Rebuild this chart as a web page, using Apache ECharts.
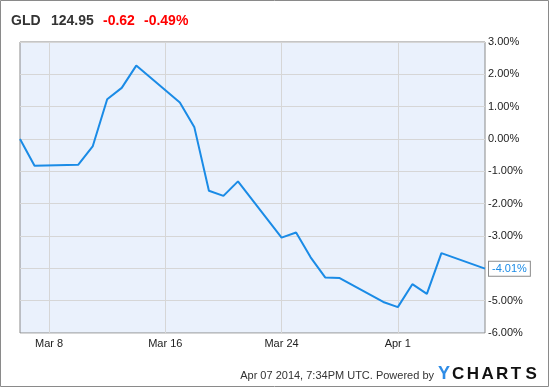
<!DOCTYPE html>
<html>
<head>
<meta charset="utf-8">
<script src="https://cdn.jsdelivr.net/npm/echarts@6/dist/echarts.min.js"></script>
<style>
  html, body { margin: 0; padding: 0; background: #fff; }
  #chart { width: 550px; height: 388px; }
</style>
</head>
<body>
<div id="chart"></div>
<script>
// trading days and % change of GLD
var days = [
    "2014-03-06", "2014-03-07", "2014-03-10", "2014-03-11", "2014-03-12",
    "2014-03-13", "2014-03-14", "2014-03-17", "2014-03-18", "2014-03-19",
    "2014-03-20", "2014-03-21", "2014-03-24", "2014-03-25", "2014-03-26",
    "2014-03-27", "2014-03-28", "2014-03-31", "2014-04-01", "2014-04-02",
    "2014-04-03", "2014-04-04", "2014-04-07"
];
var pctChange = [
    0.00, -0.83, -0.80, -0.23, 1.23,
    1.58, 2.27, 1.13, 0.36, -1.60,
    -1.76, -1.31, -3.05, -2.89, -3.66,
    -4.28, -4.30, -5.04, -5.20, -4.49,
    -4.79, -3.53, -4.01
];
var tickDays = ["2014-03-08", "2014-03-16", "2014-03-24", "2014-04-01"];
var tickNames = ["Mar 8", "Mar 16", "Mar 24", "Apr 1"];
var xStart = "2014-03-06";
var xEnd = "2014-04-07";

var FONT = "'Liberation Sans', Arial, sans-serif";
var BLUE = "#1a8be6";

// calendar day number (Feb 28 = 0), so Mar 8 -> 8, Apr 1 -> 32
function dayNum(s) {
    return Math.round((Date.UTC(+s.slice(0, 4), +s.slice(5, 7) - 1, +s.slice(8, 10)) - Date.UTC(2014, 1, 28)) / 86400000);
}

var points = days.map(function (d, i) {
    return [dayNum(d), pctChange[i]];
});
var tickPos = tickDays.map(dayNum);

// header and logo pieces
function txt(x, y, s, color, font, align) {
    return {
        type: "text", x: x, y: y, silent: true,
        style: { text: s, fill: color, font: font, align: align || "left", verticalAlign: "middle" }
    };
}
var logoLetters = ["C", "H", "A", "R", "T", "S"];
var logo = [txt(438, 374, "Y", "#2e8ce6", "bold 18px " + FONT)];
logoLetters.forEach(function (c, i) {
    logo.push(txt(452 + i * 14.7, 374, c, "#111", "bold 17px " + FONT));
});

var chart = echarts.init(document.getElementById("chart"));

chart.setOption({
    animation: false,
    backgroundColor: "#fff",
    textStyle: { fontFamily: FONT },
    grid: {
        left: 20, right: 65, top: 42, bottom: 55,
        show: true,
        backgroundColor: "#eaf1fc",
        borderColor: "#8a8a8a",
        borderWidth: 1
    },
    xAxis: {
        type: "value",
        min: dayNum(xStart),
        max: dayNum(xEnd),
        axisLine: { show: false },
        axisTick: { show: false, customValues: tickPos },
        axisLabel: {
            customValues: tickPos,
            color: "#222",
            fontSize: 11,
            fontFamily: FONT,
            margin: 5,
            formatter: function (v) {
                return tickNames[tickPos.indexOf(v)] || "";
            }
        },
        splitLine: { show: true, lineStyle: { color: "#d6d6d6", width: 1 } }
    },
    yAxis: {
        type: "value",
        position: "right",
        min: -6,
        max: 3,
        interval: 1,
        axisLine: { show: false },
        axisTick: { show: false },
        axisLabel: {
            color: "#222",
            fontSize: 11,
            fontFamily: FONT,
            margin: 3,
            formatter: function (v) { return v.toFixed(2) + "%"; }
        },
        splitLine: { lineStyle: { color: "#d6d6d6", width: 1 } }
    },
    series: [{
        type: "line",
        data: points,
        showSymbol: false,
        symbol: "none",
        lineStyle: { color: BLUE, width: 2 },
        endLabel: {
            show: true,
            distance: 4,
            formatter: function (p) { return p.value[1].toFixed(2) + "%"; },
            color: BLUE,
            fontSize: 11,
            fontFamily: FONT,
            backgroundColor: "#fff",
            borderColor: "#8a8a8a",
            borderWidth: 1,
            padding: [2, 3, 1, 3]
        }
    }],
    graphic: [
        {
            type: "rect",
            shape: { x: 0.5, y: 0.5, width: 548, height: 386 },
            style: { fill: null, stroke: "#8a8a8a", lineWidth: 1 },
            silent: true
        },
        txt(11, 21, "GLD", "#333", "bold 14px " + FONT),
        txt(51, 21, "124.95", "#333", "bold 14px " + FONT),
        txt(103, 21, "-0.62", "#f00", "bold 14px " + FONT),
        txt(144, 21, "-0.49%", "#f00", "bold 14px " + FONT),
        txt(434, 376, "Apr 07 2014, 7:34PM UTC. Powered by", "#333", "11px " + FONT, "right")
    ].concat(logo)
});
</script>
</body>
</html>
